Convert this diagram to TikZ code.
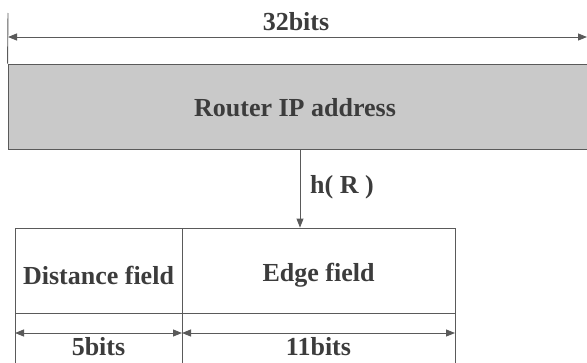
\documentclass[tikz,border=0pt]{standalone}
\usepackage{fontspec}
\setmainfont{Liberation Serif}
\usetikzlibrary{arrows.meta,positioning}
\definecolor{inkgray}{HTML}{3C3C3C}
\definecolor{linegray}{HTML}{5A5A5A}
\definecolor{boxgray}{HTML}{C9C9C9}
\tikzset{
  lbl/.style={font=\fontsize{26}{29}\selectfont\bfseries, text=inkgray, inner sep=0pt},
  cell/.style={draw=linegray, line width=0.9pt, inner sep=0pt, rectangle},
  dim/.style={draw=linegray, line width=0.9pt, {Triangle[length=9pt,width=7pt]}-{Triangle[length=9pt,width=7pt]}},
  flow/.style={draw=linegray, line width=0.9pt, -{Triangle[length=9pt,width=7pt]}}
}
\begin{document}
\begin{tikzpicture}[x=1pt,y=-1pt]
  \useasboundingbox (0,0) rectangle (587,362);
  % address word
  \node[cell, fill=boxgray, minimum width=581pt, minimum height=85pt] (router) at (298.5,106.5) {};
  \node[lbl] (routertxt) at (295,108) {Router IP address};
  % overall width marker
  \coordinate (tickL) at (8,13);
  \coordinate (aL) at (8,37);
  \coordinate (aR) at (587,37);
  \draw[draw=linegray, line width=0.9pt] (tickL) -- (router.north west);
  \draw[dim] (aL) -- (aR);
  \node[lbl] (w32) at (296,22) {32bits};
  % hashed fields
  \node[cell, minimum width=167pt, minimum height=85pt] (dist) at (98.5,270.5) {};
  \node[cell, minimum width=273pt, minimum height=85pt] (edge) at (318.5,270.5) {};
  \node[lbl] (disttxt) at (98.5,275) {Distance field};
  \node[lbl] (edgetxt) at (318.5,275) {Edge field};
  \node[cell, minimum width=167pt, minimum height=70pt, anchor=north] (distw) at (dist.south) {};
  \node[cell, minimum width=273pt, minimum height=70pt, anchor=north] (edgew) at (edge.south) {};
  % field width markers
  \coordinate (d1) at (15,333);
  \coordinate (d2) at (182,333);
  \coordinate (e2) at (455,333);
  \draw[dim] (d1) -- (d2);
  \draw[dim] (d2) -- (e2);
  \node[lbl] (w5) at (98.5,347) {5bits};
  \node[lbl] (w11) at (318.5,347) {11bits};
  % hash mapping
  \coordinate (hx) at (300,0);
  \draw[flow] (router.south -| hx) -- (edge.north -| hx);
  \node[lbl, anchor=west] (hr) at (310,187) {h( R )};
\end{tikzpicture}
\end{document}
